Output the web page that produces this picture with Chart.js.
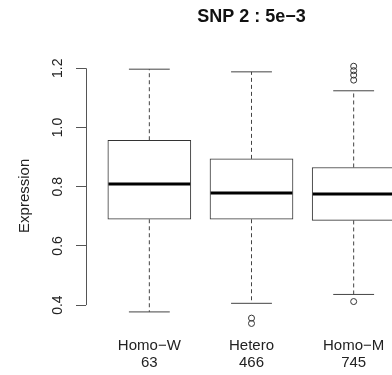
<!DOCTYPE html>
<html>
<head>
<meta charset="utf-8">
<title>SNP 2 : 5e-3</title>
<script src="https://cdn.jsdelivr.net/npm/chart.js@4/dist/chart.umd.min.js"></script>
<style>
  html, body { margin: 0; padding: 0; background: #fff; overflow: hidden; }
  #wrap { width: 422px; height: 375px; }
</style>
</head>
<body>
<div id="wrap"><canvas id="snpChart" width="422" height="375"></canvas></div>
<script>
// genotype groups and their sample sizes
const groups = ['Homo−W', 'Hetero', 'Homo−M'];
const counts = [63, 466, 745];

// box statistics per group
const lowerWhisker = [0.377, 0.406, 0.436];
const q1 = [0.690, 0.690, 0.686];
const median = [0.809, 0.779, 0.775];
const q3 = [0.957, 0.894, 0.865];
const upperWhisker = [1.197, 1.188, 1.124];
const outliers = [[], [0.356, 0.338], [0.412, 1.160, 1.177, 1.192, 1.207]];

const yTicks = [0.4, 0.6, 0.8, 1.0, 1.2];

const FONT = "'Liberation Sans', Arial, Helvetica, sans-serif";
const BOX_HALF = 0.4;    // box width 0.8
const CAP_HALF = 0.2;    // staple width 0.4

// build horizontal segments, null points break the line
function hSegments(values, half) {
  const pts = [];
  values.forEach((v, i) => {
    const x = i + 1;
    pts.push({ x: x - half, y: v }, { x: x + half, y: v }, { x: x, y: null });
  });
  return pts;
}

function whiskerSegments() {
  const pts = [];
  groups.forEach((g, i) => {
    const x = i + 1;
    pts.push({ x: x, y: q3[i] }, { x: x, y: upperWhisker[i] }, { x: x, y: null });
    pts.push({ x: x, y: q1[i] }, { x: x, y: lowerWhisker[i] }, { x: x, y: null });
  });
  return pts;
}

const outlierPoints = [];
outliers.forEach((list, i) => list.forEach(v => outlierPoints.push({ x: i + 1, y: v })));

// y axis line only between first and last tick
const axisLine = {
  id: 'axisLine',
  afterDraw(chart) {
    const ys = chart.scales.y;
    const ctx = chart.ctx;
    const x = Math.round(ys.right) + 0.5;
    ctx.save();
    ctx.strokeStyle = '#555';
    ctx.lineWidth = 1;
    ctx.beginPath();
    ctx.moveTo(x, ys.getPixelForValue(yTicks[0]));
    ctx.lineTo(x, ys.getPixelForValue(yTicks[yTicks.length - 1]));
    ctx.stroke();
    ctx.restore();
  }
};

const ctx = document.getElementById('snpChart').getContext('2d');
new Chart(ctx, {
  data: {
    datasets: [
      {
        type: 'line',
        label: 'median',
        data: hSegments(median, BOX_HALF),
        borderColor: '#000',
        borderWidth: 3,
        pointRadius: 0,
        spanGaps: false
      },
      {
        type: 'line',
        label: 'caps',
        data: hSegments(lowerWhisker, CAP_HALF).concat(hSegments(upperWhisker, CAP_HALF)),
        borderColor: '#444',
        borderWidth: 1,
        pointRadius: 0,
        spanGaps: false
      },
      {
        type: 'line',
        label: 'whiskers',
        data: whiskerSegments(),
        borderColor: '#444',
        borderWidth: 1,
        borderDash: [4, 3],
        pointRadius: 0,
        spanGaps: false
      },
      {
        type: 'scatter',
        label: 'outliers',
        data: outlierPoints,
        pointRadius: 3,
        pointBorderWidth: 1,
        pointBorderColor: '#333',
        pointBackgroundColor: 'rgba(255,255,255,0)'
      },
      {
        type: 'bar',
        label: 'box',
        data: groups.map((g, i) => ({ x: i + 1, y: [q1[i], q3[i]] })),
        backgroundColor: '#fff',
        borderColor: '#333',
        borderWidth: 1,
        borderSkipped: false,
        barThickness: 83
      }
    ]
  },
  options: {
    responsive: false,
    animation: false,
    devicePixelRatio: 1,
    layout: { padding: 0 },
    plugins: {
      legend: { display: false },
      tooltip: { enabled: false },
      title: {
        display: true,
        fullSize: false,
        text: 'SNP 2 : 5e−3',
        color: '#111',
        font: { family: FONT, size: 18, weight: 'bold', lineHeight: 1.2 },
        padding: { top: 6, bottom: 29 }
      }
    },
    scales: {
      x: {
        type: 'linear',
        offset: false,
        min: 0.38,
        max: 3.62,
        afterBuildTicks: s => { s.ticks = groups.map((g, i) => ({ value: i + 1 })); },
        afterFit: s => { s.height = 40; },
        grid: { display: false, drawTicks: false, offset: false },
        border: { display: false },
        ticks: {
          autoSkip: false,
          maxRotation: 0,
          padding: 2,
          color: '#222',
          font: { family: FONT, size: 15, lineHeight: 1.13 },
          callback: v => [groups[v - 1], String(counts[v - 1])]
        }
      },
      y: {
        type: 'linear',
        min: 0.299,
        max: 1.2395,
        afterBuildTicks: s => { s.ticks = yTicks.map(v => ({ value: v })); },
        afterFit: s => { s.width = 86; },
        grid: { drawOnChartArea: false, drawTicks: true, tickLength: 10, color: '#555' },
        border: { display: false },
        ticks: {
          autoSkip: false,
          minRotation: 90,
          maxRotation: 90,
          crossAlign: 'center',
          padding: 8,
          color: '#222',
          font: { family: FONT, size: 14 },
          callback: v => v.toFixed(1)
        },
        title: {
          display: true,
          text: 'Expression',
          color: '#222',
          font: { family: FONT, size: 15, lineHeight: 1.2 },
          padding: { top: 16, bottom: 0 }
        }
      }
    }
  },
  plugins: [axisLine]
});
</script>
</body>
</html>
